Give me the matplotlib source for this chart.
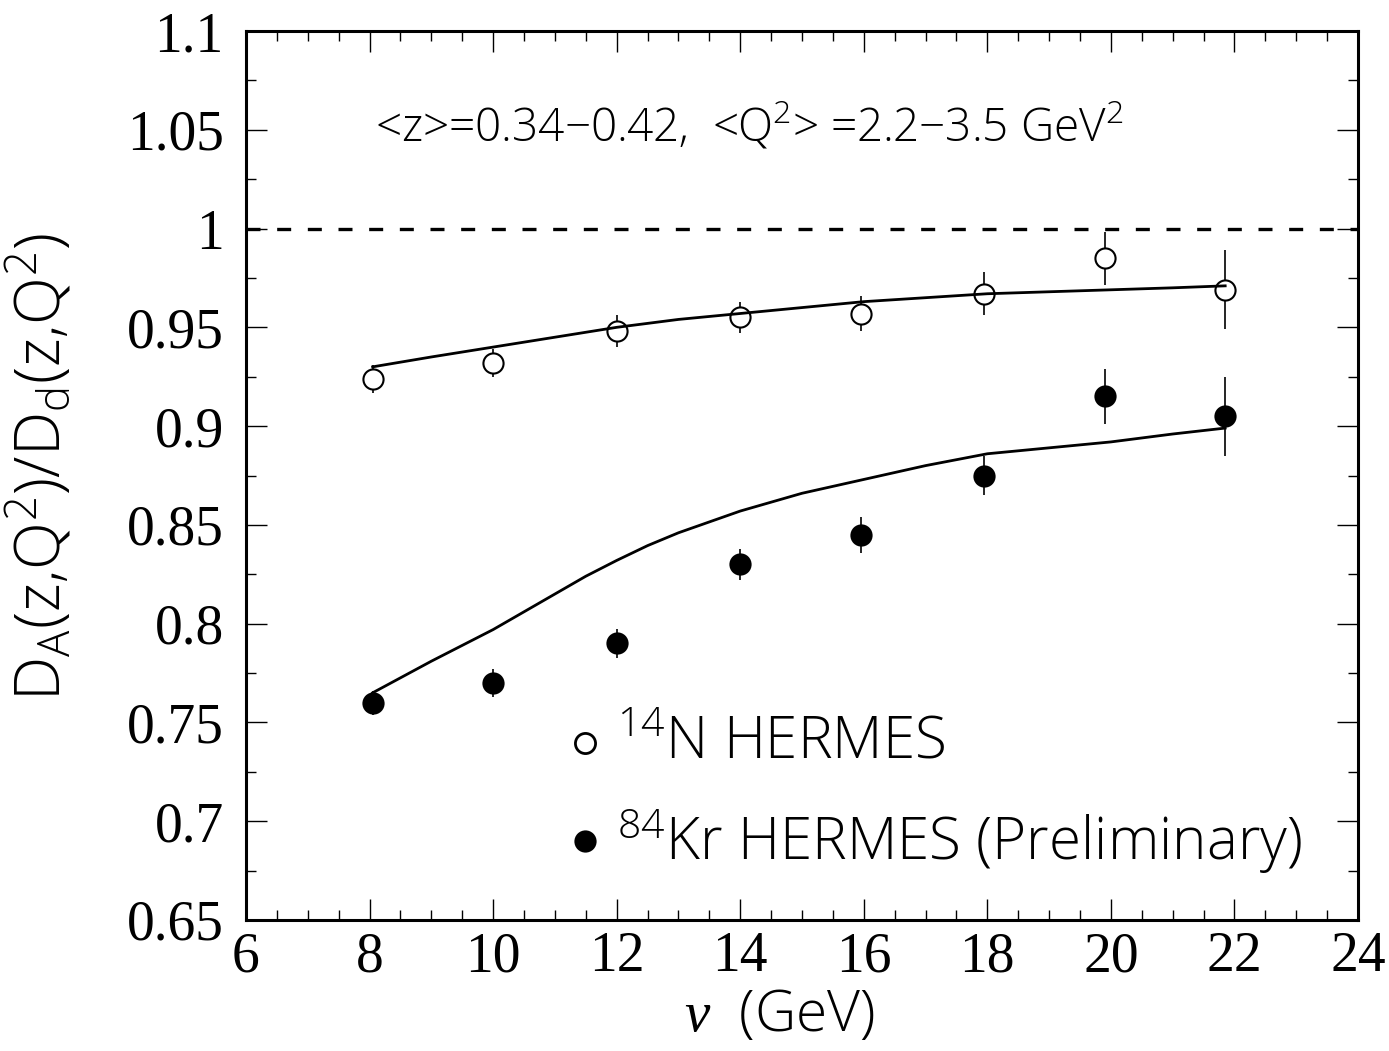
import numpy as np
import matplotlib
matplotlib.use("Agg")
import matplotlib.pyplot as plt
from matplotlib.ticker import MultipleLocator, FuncFormatter

SANS = "Open Sans"
plt.rcParams["mathtext.fontset"] = "custom"
plt.rcParams["mathtext.rm"] = SANS + ":light"
plt.rcParams["mathtext.it"] = "Liberation Serif:italic"
plt.rcParams["mathtext.bf"] = SANS + ":bold"

# HERMES data: nitrogen and krypton multiplicity ratios vs nu
nu_N = [8.05, 10.0, 12.0, 14.0, 15.95, 17.95, 19.9, 21.85]
ratio_N = [0.924, 0.932, 0.948, 0.955, 0.957, 0.967, 0.985, 0.969]
err_N = [0.007, 0.007, 0.008, 0.008, 0.009, 0.011, 0.0135, 0.020]

nu_Kr = [8.05, 10.0, 12.0, 14.0, 15.95, 17.95, 19.9, 21.85]
ratio_Kr = [0.760, 0.770, 0.790, 0.830, 0.845, 0.875, 0.915, 0.905]
err_Kr = [0.006, 0.007, 0.0075, 0.008, 0.009, 0.010, 0.014, 0.020]

# model calculations
nu_model = [8.05, 9.0, 10.0, 11.0, 11.5, 12.0, 12.5, 13.0, 14.0, 15.0, 16.0, 17.0, 18.0, 19.0, 20.0, 21.0, 21.85]
model_N = [0.930, 0.935, 0.940, 0.945, 0.9475, 0.950, 0.952, 0.954, 0.957, 0.960, 0.963, 0.965, 0.967, 0.968, 0.969, 0.970, 0.971]
model_Kr = [0.765, 0.781, 0.797, 0.815, 0.824, 0.832, 0.8395, 0.846, 0.857, 0.866, 0.873, 0.880, 0.886, 0.889, 0.892, 0.896, 0.899]

fig = plt.figure(figsize=(13.89, 10.51), dpi=100)
ax = fig.add_axes([246 / 1389, 1 - 920 / 1051, (1358 - 246) / 1389, (920 - 31) / 1051])

ax.set_xlim(6, 24)
ax.set_ylim(0.65, 1.1)

ax.axhline(1.0, color="black", lw=2.4, dashes=(4.2, 5.0), zorder=1)

ms = 14.5
ax.errorbar(nu_N, ratio_N, yerr=err_N, fmt="none", ecolor="black", elinewidth=1.2, zorder=2)
ax.errorbar(nu_Kr, ratio_Kr, yerr=err_Kr, fmt="none", ecolor="black", elinewidth=1.2, zorder=2)
ax.plot(nu_N, ratio_N, "o", ms=ms, mfc="white", mec="black", mew=1.5, zorder=3)
ax.plot(nu_Kr, ratio_Kr, "o", ms=ms, mfc="black", mec="black", mew=1.5, zorder=3)

ax.plot(nu_model, model_N, color="black", lw=2.0, zorder=4)
ax.plot(nu_model, model_Kr, color="black", lw=2.0, zorder=4)

# legend drawn by hand
ax.plot([11.49], [0.7395], "o", ms=ms, mfc="white", mec="black", mew=2.0, clip_on=False)
ax.plot([11.49], [0.690], "o", ms=ms, mfc="black", mec="black", mew=1.5, clip_on=False)
ax.text(12.0, 0.7395, r"$\mathregular{^{14}}$N HERMES", fontsize=42,
        family=SANS, weight="light", va="center", ha="left")
ax.text(12.0, 0.690, r"$\mathregular{^{84}}$Kr HERMES (Preliminary)", fontsize=42,
        family=SANS, weight="light", va="center", ha="left")

ax.text(8.09, 1.0515, r"<z>=0.34$\mathregular{-}$0.42,  <Q$\mathregular{^2}$> =2.2$\mathregular{-}$3.5 GeV$\mathregular{^2}$",
        fontsize=33, family=SANS, weight="light", va="center", ha="left")

# axes styling
for s in ax.spines.values():
    s.set_linewidth(2.2)
ax.xaxis.set_major_locator(MultipleLocator(2))
ax.xaxis.set_minor_locator(MultipleLocator(0.5))
ax.yaxis.set_major_locator(MultipleLocator(0.05))
ax.yaxis.set_minor_locator(MultipleLocator(0.025))
ax.yaxis.set_major_formatter(FuncFormatter(lambda v, p: "%g" % round(v, 3)))
ax.tick_params(which="both", direction="in", top=True, right=True, width=1.0)
ax.tick_params(which="major", length=15)
ax.tick_params(which="minor", length=7.5)
ax.tick_params(axis="x", which="major", pad=8)
ax.tick_params(axis="y", which="major", pad=16)
for lab in ax.get_xticklabels() + ax.get_yticklabels():
    lab.set_family("Liberation Serif")
    lab.set_fontsize(40)

ax.set_ylabel(r"D$\mathregular{_A}$(z,Q$\mathregular{^2}$)/D$\mathregular{_d}$(z,Q$\mathregular{^2}$)",
              fontsize=45, family=SANS, weight="light")
ax.yaxis.set_label_coords(-0.154, 0.51)
ax.set_xlabel(r"$\nu$  (GeV)", fontsize=41, family=SANS, weight="light")
ax.xaxis.set_label_coords(0.48, -0.076)

fig.savefig("out.png", dpi=100)
